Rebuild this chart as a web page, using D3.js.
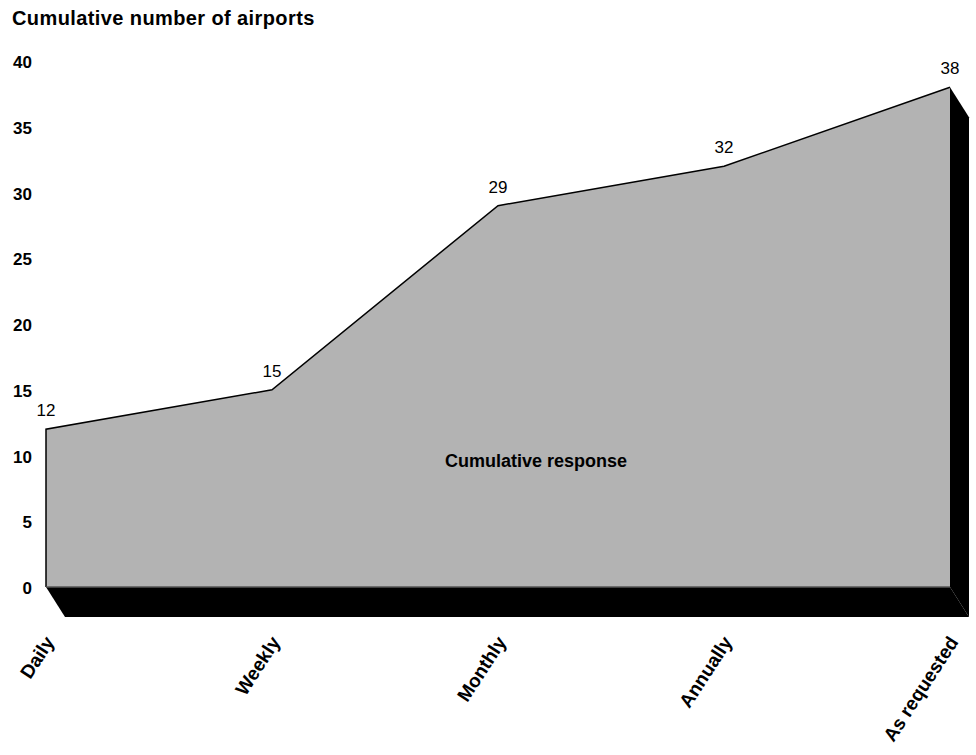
<!DOCTYPE html>
<html>
<head>
<meta charset="utf-8">
<script src="https://cdn.jsdelivr.net/npm/d3@7"></script>
<style>
  body { margin: 0; background: #fff; }
  text { font-family: "Liberation Sans", Arial, sans-serif; }
</style>
</head>
<body>
<svg id="chart" width="976" height="755"></svg>
<script>
// Chart data.
const categories = ['Daily', 'Weekly', 'Monthly', 'Annually', 'As requested'];
const values = [12, 15, 29, 32, 38];
const yTicks = [0, 5, 10, 15, 20, 25, 30, 35, 40];

const svg = d3.select('#chart');

// Front face of the area, plus a depth offset for the 3D look.
const x = d3.scalePoint().domain(categories).range([46, 950]);
const y = d3.scaleLinear().domain([0, 40]).range([587, 61]);
const depthX = 19, depthY = 30;

const pts = categories.map((c, i) => [x(c), y(values[i])]);
const last = pts[pts.length - 1];

// Bottom face (black).
svg.append('path')
    .attr('d', d3.line()([
        [x(categories[0]), y(0)], [last[0], y(0)],
        [last[0] + depthX, y(0) + depthY], [x(categories[0]) + depthX, y(0) + depthY]
    ]) + 'Z')
    .attr('fill', '#000');

// Right side face (black).
svg.append('path')
    .attr('d', d3.line()([
        last, [last[0] + depthX, last[1] + depthY],
        [last[0] + depthX, y(0) + depthY], [last[0], y(0)]
    ]) + 'Z')
    .attr('fill', '#000');

// Front face (grey area).
const area = d3.area()
    .x((d, i) => x(categories[i]))
    .y0(y(0))
    .y1(d => y(d));
svg.append('path')
    .datum(values)
    .attr('d', area)
    .attr('fill', '#b3b3b3');

// Outline: left edge and top line.
svg.append('path')
    .attr('d', d3.line()([[x(categories[0]), y(0)]].concat(pts)))
    .attr('fill', 'none')
    .attr('stroke', '#000')
    .attr('stroke-width', 1.5);
svg.append('line')
    .attr('x1', x(categories[0])).attr('x2', last[0])
    .attr('y1', y(0)).attr('y2', y(0))
    .attr('stroke', '#555').attr('stroke-width', 1.5);

// Value labels.
svg.append('g').selectAll('text')
    .data(values)
    .enter().append('text')
    .attr('x', (d, i) => x(categories[i]))
    .attr('y', d => y(d) - 13)
    .attr('text-anchor', 'middle')
    .attr('font-size', 17)
    .text(d => d);

// Y tick labels.
svg.append('g').selectAll('text')
    .data(yTicks)
    .enter().append('text')
    .attr('x', 32)
    .attr('y', d => y(d) + 7)
    .attr('text-anchor', 'end')
    .attr('font-size', 17)
    .attr('font-weight', 'bold')
    .text(d => d);

// X labels, rotated.
svg.append('g').selectAll('text')
    .data(categories)
    .enter().append('text')
    .attr('transform', d => `translate(${x(d) + 9},${642}) rotate(-57)`)
    .attr('text-anchor', 'end')
    .attr('font-size', 19)
    .attr('font-weight', 'bold')
    .text(d => d);

// Title and series label.
svg.append('text')
    .attr('x', 12).attr('y', 25)
    .attr('font-size', 20)
    .attr('font-weight', 'bold')
    .attr('letter-spacing', 0.4)
    .text('Cumulative number of airports');

svg.append('text')
    .attr('x', 536).attr('y', 467)
    .attr('text-anchor', 'middle')
    .attr('font-size', 18)
    .attr('font-weight', 'bold')
    .text('Cumulative response');
</script>
</body>
</html>
